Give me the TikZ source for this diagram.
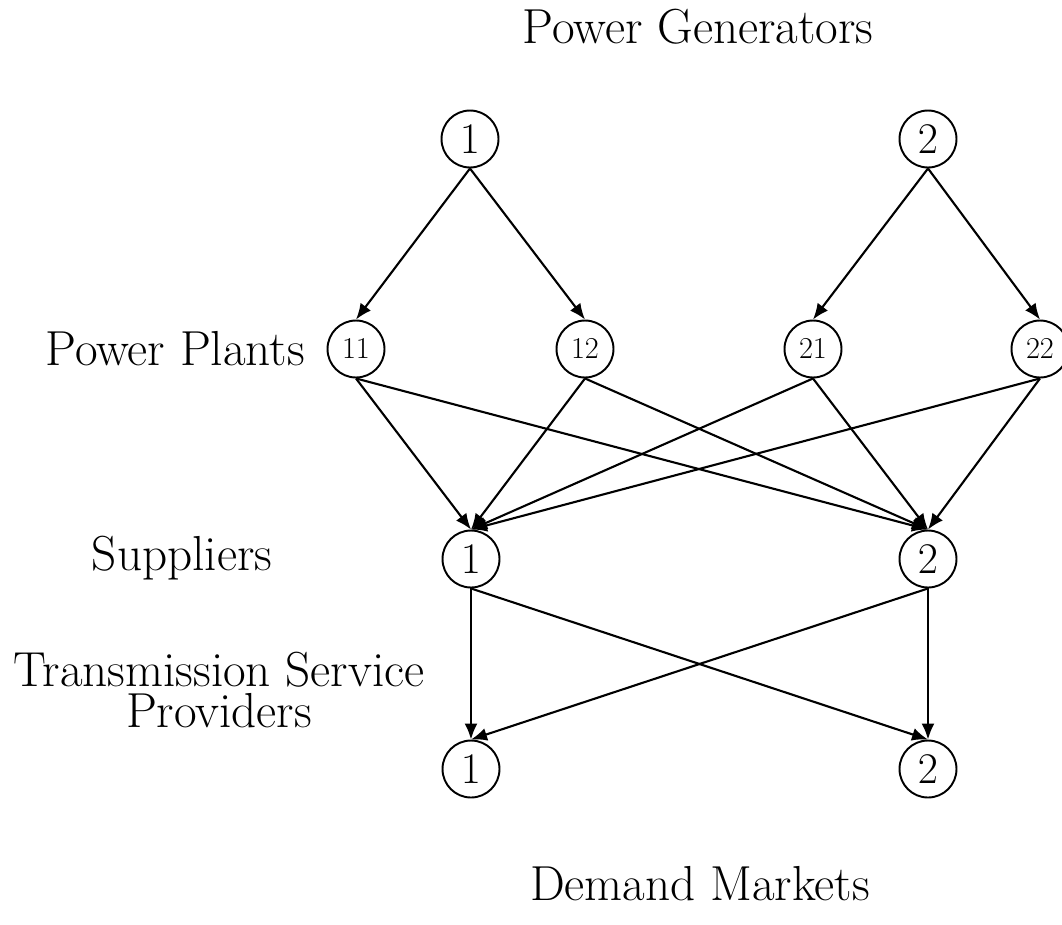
\documentclass[tikz,border=0pt]{standalone}
\usetikzlibrary{arrows.meta}
\begin{document}
\begin{tikzpicture}
[flowLine/.style={-{Latex[length=3.2mm,width=2.6mm]},line width=1.2pt},%
  nodeDecorate/.style={shape=circle,minimum size=1.14cm,inner sep=0pt,draw,line width=1.1pt,font=\fontsize{25}{30}\selectfont},%
  plantDecorate/.style={nodeDecorate,font=\fontsize{16}{18}\selectfont},%
  tierLabel/.style={font=\fontsize{28}{23}\selectfont,align=center},%
  x=0.02cm,y=-0.02cm]
\useasboundingbox (0,0) rectangle (1062,924);
%% tier labels
\node (gens) [tierLabel,anchor=base] at (698,43) {Power Generators};
\node (plants) [tierLabel,anchor=base east] at (311,365) {Power Plants};
\node (sups) [tierLabel,anchor=base] at (182,570) {Suppliers};
\node (tsp) [tierLabel,anchor=base] at (219,727) {Transmission Service\\Providers};
\node (dems) [tierLabel,anchor=base] at (700,900) {Demand Markets};
%% nodes or vertices
\foreach \nodename/\txt/\x/\y in {g1/1/470/139, g2/2/928/139, s1/1/471/559, s2/2/928/559, d1/1/471/769, d2/2/928/769}
{
  \node (\nodename) at (\x,\y) [nodeDecorate] {$\txt$};
}
\foreach \nodename/\x in {11/356, 12/585, 21/813, 22/1040}
{
  \node (p\nodename) at (\x,349) [plantDecorate] {$\nodename$};
}
%% generators to plants
\path
\foreach \startnode/\endnode in {g1/p11, g1/p12, g2/p21, g2/p22}
{
  (\startnode.south) edge[flowLine] (\endnode.north)
};
%% plants to suppliers
\path
\foreach \startnode in {p11, p12, p21, p22}
{
  (\startnode.south) edge[flowLine] (s1.north)
  (\startnode.south) edge[flowLine] (s2.north)
};
%% suppliers to demand markets
\path
\foreach \startnode/\endnode in {s1/d1, s1/d2, s2/d1, s2/d2}
{
  (\startnode.south) edge[flowLine] (\endnode.north)
};
\end{tikzpicture}
\end{document}
